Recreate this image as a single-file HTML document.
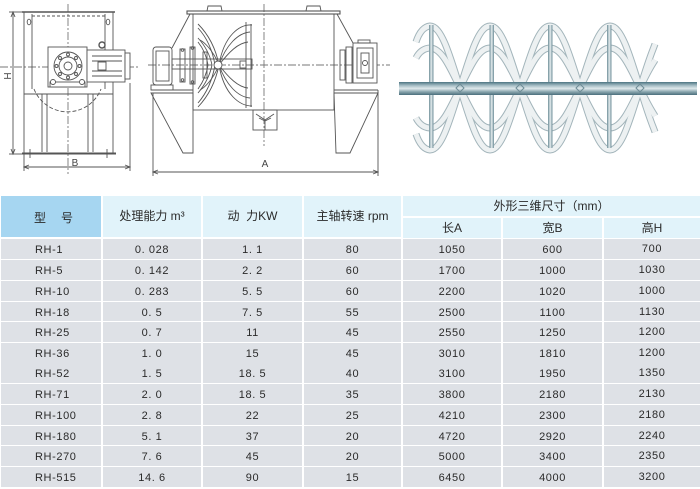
<!DOCTYPE html>
<html><head><meta charset="utf-8">
<style>
html,body{margin:0;padding:0;}
body{width:700px;height:487px;overflow:hidden;background:#fff;position:relative;font-family:"Liberation Sans","Noto Sans CJK SC",sans-serif;color:#333;}
svg{position:absolute;left:0;top:0;}
.h{position:absolute;background:#e1f3fa;font-size:12px;text-align:center;color:#2a2a2a;}
.r{position:absolute;left:0;width:700px;height:19.5px;}
.c{position:absolute;top:0;height:19.5px;line-height:22px;background:#dee1e6;text-align:center;font-size:11px;letter-spacing:0.6px;color:#2a2a2a;}
.c1{left:1px;width:100px;text-align:left;padding-left:0;}
.c1 span{position:absolute;left:34px;}
.c2{left:103px;width:98px;}
.c3{left:203px;width:99px;}
.c4{left:304px;width:97px;}
.c5{left:403px;width:98px;}
.c6{left:503px;width:99px;}
.c7{left:604px;width:96px;line-height:20px;}
</style></head><body>
<svg width="700" height="190" viewBox="0 0 700 190" xmlns="http://www.w3.org/2000/svg">
<defs>
<linearGradient id="sh" x1="0" y1="0" x2="0" y2="1">
<stop offset="0" stop-color="#4c7482"/><stop offset="0.25" stop-color="#9fb8c0"/><stop offset="0.5" stop-color="#dfe9ec"/><stop offset="0.75" stop-color="#8aa6ae"/><stop offset="1" stop-color="#4a6f7c"/>
</linearGradient>
<linearGradient id="rd" x1="0" y1="0" x2="1" y2="0">
<stop offset="0" stop-color="#6d8d98"/><stop offset="0.5" stop-color="#e2eaec"/><stop offset="1" stop-color="#6d8d98"/>
</linearGradient>
</defs>
<!-- LEFT DRAWING -->
<g stroke="#555" fill="none" stroke-width="0.9">
<line x1="68" y1="4" x2="68" y2="174" stroke-dasharray="8 2 2 2" stroke="#777"/>
<line x1="0" y1="67" x2="140" y2="67" stroke-dasharray="8 2 2 2" stroke="#777"/>
<rect x="24" y="12" width="89" height="141"/>
<line x1="22" y1="12" x2="115" y2="12" stroke-width="1.6"/>
<line x1="22" y1="153.5" x2="116" y2="153.5" stroke-width="2"/>
<line x1="32" y1="14" x2="32" y2="89"/>
<line x1="105" y1="14" x2="105" y2="89"/>
<line x1="32" y1="16" x2="105" y2="16" stroke-dasharray="3 2"/>
<ellipse cx="29" cy="22" rx="1.8" ry="2.8"/>
<ellipse cx="108" cy="22" rx="1.8" ry="2.8"/>
<line x1="24" y1="94" x2="113" y2="94"/>
<path d="M34,89 A36,36 0 0 0 101,89" stroke-dasharray="4 2"/>
<line x1="42" y1="94" x2="42" y2="152"/><line x1="47" y1="94" x2="47" y2="152"/>
<line x1="88" y1="94" x2="88" y2="152"/><line x1="93" y1="94" x2="93" y2="152"/>
<line x1="30" y1="149" x2="30" y2="158"/><line x1="107" y1="149" x2="107" y2="158"/>
<rect x="48" y="47" width="39" height="40" fill="#fff"/>
<circle cx="68" cy="66" r="14"/><circle cx="68" cy="66" r="9"/><circle cx="68" cy="66" r="4"/>
<circle cx="79.5" cy="66" r="1.5"/><circle cx="56.5" cy="66" r="1.5"/><circle cx="68" cy="54.5" r="1.5"/><circle cx="68" cy="77.5" r="1.5"/>
<circle cx="76" cy="58" r="1.5"/><circle cx="60" cy="58" r="1.5"/><circle cx="76" cy="74" r="1.5"/><circle cx="60" cy="74" r="1.5"/>
<rect x="50" y="82" width="35" height="5" fill="#fff"/>
<circle cx="53" cy="82" r="2.5" fill="#fff"/><circle cx="82" cy="82" r="2.5" fill="#fff"/>
<rect x="87" y="50" width="38" height="32" fill="#fff"/>
<line x1="92" y1="56" x2="122" y2="56"/><line x1="92" y1="61" x2="122" y2="61"/><line x1="92" y1="71" x2="122" y2="71"/><line x1="92" y1="76" x2="122" y2="76"/>
<rect x="125" y="53" width="5" height="26" fill="#fff"/>
<rect x="98" y="62" width="8" height="8" fill="#fff"/>
<circle cx="102" cy="45" r="3" stroke-width="1.4"/>
<line x1="13" y1="12" x2="13" y2="154"/>
<line x1="9" y1="12" x2="24" y2="12"/><line x1="9" y1="154" x2="24" y2="154"/>
<line x1="24" y1="154" x2="24" y2="171"/><line x1="130" y1="83" x2="130" y2="171"/>
<line x1="24" y1="167" x2="130" y2="167"/>
<path d="M11,17 L13,12 L15,17 M11,149 L13,154 L15,149 M29,165 L24,167 L29,169 M125,165 L130,167 L125,169"/>
</g>
<text x="0" y="0" transform="translate(11,76) rotate(-90)" font-size="10" fill="#444" text-anchor="middle" font-family="Liberation Sans, sans-serif">H</text>
<text x="75" y="166" font-size="10" fill="#444" text-anchor="middle" font-family="Liberation Sans, sans-serif">B</text>
<!-- MIDDLE DRAWING -->
<g stroke="#555" fill="none" stroke-width="0.9">
<line x1="264" y1="4" x2="264" y2="146" stroke-dasharray="8 2 2 2" stroke="#777"/>
<line x1="148" y1="65" x2="390" y2="65" stroke-dasharray="8 2 2 2" stroke="#777"/>
<path d="M207,11 L208,6 L221,6 L222,11 M306,11 L307,6 L320,6 L321,11"/>
<rect x="187" y="11" width="153" height="3" stroke-width="1.1"/>
<rect x="193" y="14" width="141" height="96"/>
<line x1="190" y1="14" x2="172" y2="48"/>
<line x1="337" y1="14" x2="353" y2="43"/>
<rect x="153" y="47" width="19" height="38" rx="3"/>
<rect x="156" y="51" width="13" height="30"/>
<rect x="151" y="85" width="22" height="5"/>
<rect x="172" y="59" width="80" height="10"/>
<rect x="180" y="49" width="5" height="33"/>
<rect x="190" y="47" width="5" height="37"/>
<rect x="203" y="52" width="4" height="26"/>
<circle cx="182.5" cy="50" r="1.3"/><circle cx="182.5" cy="80" r="1.3"/><circle cx="192.5" cy="48" r="1.3"/><circle cx="192.5" cy="82" r="1.3"/>
<path d="M198,24 Q214,40 219,65 Q214,90 198,107"/>
<path d="M198,28 Q211,42 215,65 Q211,88 198,103"/>
<path d="M198,38 Q209,50 212,65 Q209,80 198,93"/>
<path d="M198,42 Q206,52 208,65 Q206,78 198,89"/>
<path d="M219,65 C224,35 240,24 252,25"/>
<path d="M219,65 C224,95 240,106 252,106"/>
<path d="M219,65 C226,45 238,33 250,32"/>
<path d="M219,65 C226,85 238,97 250,98"/>
<path d="M219,65 C229,52 238,43 248,42"/>
<path d="M219,65 C229,78 238,87 248,88"/>
<path d="M219,65 C213,50 204,42 200,40"/>
<path d="M219,65 C213,80 204,88 200,90"/>
<line x1="246" y1="22" x2="246" y2="108"/><line x1="251" y1="24" x2="251" y2="107"/>
<circle cx="218" cy="65" r="4" fill="#fff"/>
<rect x="240" y="61" width="6" height="7"/>
<rect x="253" y="110" width="24" height="20"/>
<path d="M256,114 L265,120 L274,114 M265,120 L265,130 M259,118 L265,121 L271,118"/>
<line x1="151" y1="90" x2="193" y2="90"/>
<path d="M151,93 L193,93 L193,153 L183,153 Z"/>
<line x1="334" y1="90" x2="378" y2="90"/>
<path d="M334,93 L378,93 L350,153 L336,153 Z"/>
<rect x="340" y="50" width="5" height="30"/>
<rect x="346" y="47" width="6" height="36"/>
<rect x="353" y="43" width="24" height="40" fill="#fff"/>
<rect x="358" y="40" width="12" height="3"/>
<rect x="357" y="48" width="16" height="30"/>
<rect x="361" y="53" width="8" height="20"/>
<circle cx="365" cy="63" r="2.5"/>
<line x1="153" y1="93" x2="153" y2="176"/><line x1="378" y1="90" x2="378" y2="176"/>
<line x1="153" y1="172" x2="378" y2="172"/>
<path d="M158,170 L153,172 L158,174 M373,170 L378,172 L373,174"/>
</g>
<text x="265" y="167" font-size="10" fill="#444" text-anchor="middle" font-family="Liberation Sans, sans-serif">A</text>
<!-- RIGHT IMAGE: ribbon agitator -->
<g fill="none" stroke-linecap="butt" stroke-linejoin="round">
<g stroke="#a3b5bb" stroke-width="7">
<path d="M416,42 Q421,27 430,26 C441,26 449,52.3 460,88 S479,150 490,150 S509,123.7 520,88 S539,26 550,26 S569,52.3 580,88 S599,150 610,150 S629,123.7 640,88 S653,50 655,44"/>
<path d="M416,134 Q421,149 430,150 C441,150 449,123.7 460,88 S479,26 490,26 S509,52.3 520,88 S539,150 550,150 S569,123.7 580,88 S599,26 610,26 S629,52.3 640,88 S653,126 655,132"/>
<path d="M416,58 Q421,48.5 430,48 C441,48 449,65 460,88 S479,128 490,128 S509,111 520,88 S539,48 550,48 S569,65 580,88 S599,128 610,128 S629,111 640,88 S653,64 655,60"/>
<path d="M416,118 Q421,127.5 430,128 C441,128 449,111 460,88 S479,48 490,48 S509,65 520,88 S539,128 550,128 S569,111 580,88 S599,48 610,48 S629,65 640,88 S653,112 655,116"/>
</g>
<g stroke="#edf1f2" stroke-width="5">
<path d="M416,42 Q421,27 430,26 C441,26 449,52.3 460,88 S479,150 490,150 S509,123.7 520,88 S539,26 550,26 S569,52.3 580,88 S599,150 610,150 S629,123.7 640,88 S653,50 655,44"/>
<path d="M416,134 Q421,149 430,150 C441,150 449,123.7 460,88 S479,26 490,26 S509,52.3 520,88 S539,150 550,150 S569,123.7 580,88 S599,26 610,26 S629,52.3 640,88 S653,126 655,132"/>
<path d="M416,58 Q421,48.5 430,48 C441,48 449,65 460,88 S479,128 490,128 S509,111 520,88 S539,48 550,48 S569,65 580,88 S599,128 610,128 S629,111 640,88 S653,64 655,60"/>
<path d="M416,118 Q421,127.5 430,128 C441,128 449,111 460,88 S479,48 490,48 S509,65 520,88 S539,128 550,128 S569,111 580,88 S599,48 610,48 S629,65 640,88 S653,112 655,116"/>
</g>
</g>
<rect x="429" y="25" width="4.5" height="123" fill="url(#rd)"/>
<rect x="489.5" y="25" width="4.5" height="123" fill="url(#rd)"/>
<rect x="548" y="25" width="4.5" height="123" fill="url(#rd)"/>
<rect x="607" y="25" width="4.5" height="123" fill="url(#rd)"/>
<rect x="399" y="82" width="298" height="13" fill="url(#sh)"/>
<g fill="none" stroke="#6f8d97" stroke-width="1">
<path d="M456,88 L460,84 L464,88 L460,92 Z M516,88 L520,84 L524,88 L520,92 Z M576,88 L580,84 L584,88 L580,92 Z M636,88 L640,84 L644,88 L640,92 Z"/>
</g>
</svg>

<!-- TABLE HEADER -->
<div class="h" style="left:1px;top:196px;width:100px;height:41px;background:#a6d6f1;"><span style="position:absolute;left:33px;top:13px;">型</span><span style="position:absolute;left:60px;top:13px;">号</span></div>
<div class="h" style="left:103px;top:196px;width:98px;height:41px;line-height:41px;">处理能力 m³</div>
<div class="h" style="left:203px;top:196px;width:99px;height:41px;line-height:41px;">动&nbsp;&nbsp;力KW</div>
<div class="h" style="left:304px;top:196px;width:97px;height:41px;line-height:41px;">主轴转速 rpm</div>
<div class="h" style="left:403px;top:196px;width:297px;height:20px;line-height:20px;">外形三维尺寸（mm）</div>
<div class="h" style="left:403px;top:218px;width:98px;height:19.5px;line-height:20px;">长A</div>
<div class="h" style="left:503px;top:218px;width:99px;height:19.5px;line-height:20px;">宽B</div>
<div class="h" style="left:604px;top:218px;width:96px;height:19.5px;line-height:20px;">高H</div>

<!-- TABLE BODY -->
<div class="r" style="top:239px"><div class="c c1"><span>RH-1</span></div><div class="c c2">0. 028</div><div class="c c3">1. 1</div><div class="c c4">80</div><div class="c c5">1050</div><div class="c c6">600</div><div class="c c7">700</div></div>
<div class="r" style="top:260px"><div class="c c1"><span>RH-5</span></div><div class="c c2">0. 142</div><div class="c c3">2. 2</div><div class="c c4">60</div><div class="c c5">1700</div><div class="c c6">1000</div><div class="c c7">1030</div></div>
<div class="r" style="top:281px"><div class="c c1"><span>RH-10</span></div><div class="c c2">0. 283</div><div class="c c3">5. 5</div><div class="c c4">60</div><div class="c c5">2200</div><div class="c c6">1020</div><div class="c c7">1000</div></div>
<div class="r" style="top:301.5px"><div class="c c1"><span>RH-18</span></div><div class="c c2">0. 5</div><div class="c c3">7. 5</div><div class="c c4">55</div><div class="c c5">2500</div><div class="c c6">1100</div><div class="c c7">1130</div></div>
<div class="r" style="top:322px"><div class="c c1"><span>RH-25</span></div><div class="c c2">0. 7</div><div class="c c3">11</div><div class="c c4">45</div><div class="c c5">2550</div><div class="c c6">1250</div><div class="c c7">1200</div></div>
<div class="r" style="top:343px"><div class="c c1"><span>RH-36</span></div><div class="c c2">1. 0</div><div class="c c3">15</div><div class="c c4">45</div><div class="c c5">3010</div><div class="c c6">1810</div><div class="c c7">1200</div></div>
<div class="r" style="top:363px"><div class="c c1"><span>RH-52</span></div><div class="c c2">1. 5</div><div class="c c3">18. 5</div><div class="c c4">40</div><div class="c c5">3100</div><div class="c c6">1950</div><div class="c c7">1350</div></div>
<div class="r" style="top:384px"><div class="c c1"><span>RH-71</span></div><div class="c c2">2. 0</div><div class="c c3">18. 5</div><div class="c c4">35</div><div class="c c5">3800</div><div class="c c6">2180</div><div class="c c7">2130</div></div>
<div class="r" style="top:405px"><div class="c c1"><span>RH-100</span></div><div class="c c2">2. 8</div><div class="c c3">22</div><div class="c c4">25</div><div class="c c5">4210</div><div class="c c6">2300</div><div class="c c7">2180</div></div>
<div class="r" style="top:425.5px"><div class="c c1"><span>RH-180</span></div><div class="c c2">5. 1</div><div class="c c3">37</div><div class="c c4">20</div><div class="c c5">4720</div><div class="c c6">2920</div><div class="c c7">2240</div></div>
<div class="r" style="top:446px"><div class="c c1"><span>RH-270</span></div><div class="c c2">7. 6</div><div class="c c3">45</div><div class="c c4">20</div><div class="c c5">5000</div><div class="c c6">3400</div><div class="c c7">2350</div></div>
<div class="r" style="top:467px;height:20px"><div class="c c1" style="height:20px"><span>RH-515</span></div><div class="c c2" style="height:20px">14. 6</div><div class="c c3" style="height:20px">90</div><div class="c c4" style="height:20px">15</div><div class="c c5" style="height:20px">6450</div><div class="c c6" style="height:20px">4000</div><div class="c c7" style="height:20px">3200</div></div>
</body></html>
